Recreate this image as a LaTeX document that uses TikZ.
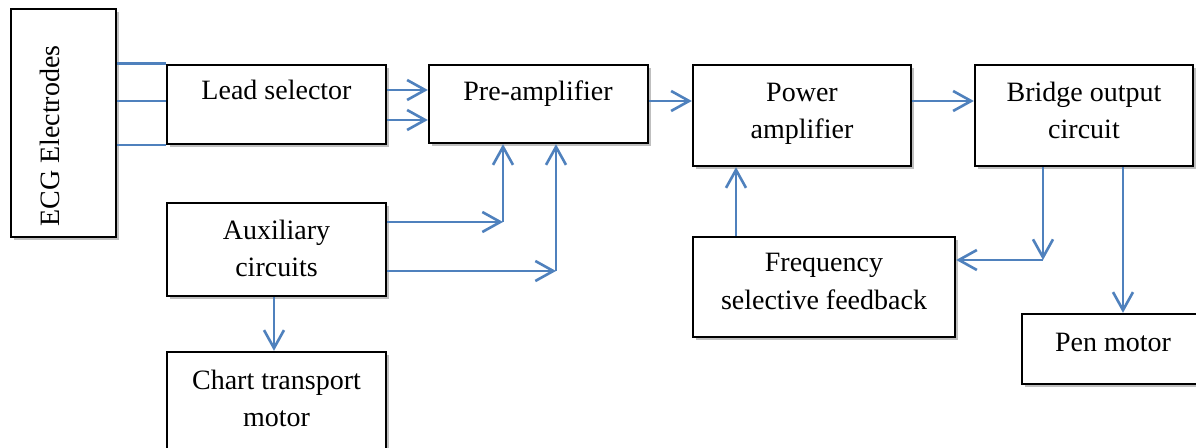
\documentclass[tikz,border=0pt]{standalone}
\usepackage{fontspec}
\setmainfont{Liberation Serif}
\usetikzlibrary{arrows.meta,shadows}
\definecolor{lineblue}{RGB}{79,129,189}
\begin{document}
\begin{tikzpicture}[x=0.5pt,y=-0.5pt,
  box/.style={draw=black,line width=1.2pt,fill=white,rectangle,inner sep=0pt,
    drop shadow={shadow xshift=1.3pt,shadow yshift=-1.3pt,fill=black,opacity=0.25}},
  txt/.style={font=\fontsize{14}{18}\selectfont,inner sep=0pt,anchor=base},
  wire/.style={draw=lineblue,line width=1.3pt},
  arr/.style={wire,-{Straight Barb[length=9pt,width=10pt,line width=1.3pt]}}
]
\useasboundingbox[fill=white] (0,0) rectangle (1196,448);

% boxes
\node[box,minimum width=52.5pt,minimum height=114pt] (ecg) at (63.5,123) {};
\node[box,minimum width=109.5pt,minimum height=39.5pt] (lead) at (276.5,104.5) {};
\node[box,minimum width=109.5pt,minimum height=39pt] (pre) at (538.5,104) {};
\node[box,minimum width=109pt,minimum height=50.5pt] (pow) at (802,115.5) {};
\node[box,minimum width=109pt,minimum height=50.5pt] (bridge) at (1084,115.5) {};
\node[box,minimum width=109.5pt,minimum height=46.5pt] (aux) at (276.5,249.5) {};
\node[box,minimum width=109.5pt,minimum height=54pt] (chart) at (276.5,406) {};
\node[box,minimum width=131pt,minimum height=50pt] (freq) at (824,287) {};
\node[box,minimum width=91.5pt,minimum height=35pt] (pen) at (1113.5,349) {};

% texts
\node[txt,rotate=90] (ecgt) at (59,136) {ECG Electrodes};
\node[txt] (leadt) at (276.5,100) {Lead selector};
\node[txt] (pret) at (538,101) {Pre-amplifier};
\node[txt] (powt1) at (802,102) {Power};
\node[txt] (powt2) at (802,139) {amplifier};
\node[txt] (bridget1) at (1084,102) {Bridge output};
\node[txt] (bridget2) at (1084,139) {circuit};
\node[txt] (auxt1) at (276.5,240) {Auxiliary};
\node[txt] (auxt2) at (276.5,277) {circuits};
\node[txt] (chartt1) at (276.5,390) {Chart transport};
\node[txt] (chartt2) at (276.5,427) {motor};
\node[txt] (freqt1) at (824,272) {Frequency};
\node[txt] (freqt2) at (824,310) {selective feedback};
\node[txt] (pent) at (1113,352) {Pen motor};

% corners
\coordinate (c1) at (503,222);
\coordinate (c2) at (556,271);
\coordinate (c3) at (1043,260);

% electrode wires
\draw[wire] (ecg.east |- lead.north) -- (lead.north west);
\draw[wire] (ecg.east |- 0,101) -- (lead.west |- 0,101);
\draw[wire] (ecg.east |- lead.south) -- (lead.south west);

% lead selector to pre-amplifier
\draw[arr] (lead.east |- 0,90) -- (pre.west |- 0,90);
\draw[arr] (lead.east |- 0,120) -- (pre.west |- 0,120);

% main chain
\draw[arr] (pre.east |- 0,101) -- (pow.west |- 0,101);
\draw[arr] (pow.east |- 0,101) -- (bridge.west |- 0,101);

% auxiliary circuits
\draw[arr] (aux.east |- c1) -- (c1);
\draw[arr] (c1) -- (c1 |- pre.south);
\draw[arr] (aux.east |- c2) -- (c2);
\draw[arr] (c2) -- (c2 |- pre.south);
\draw[arr] (aux.south -| 274,0) -- (chart.north -| 274,0);

% feedback
\draw[arr] (freq.north -| 736,0) -- (pow.south -| 736,0);
\draw[arr] (bridge.south -| c3) -- (c3);
\draw[arr] (c3) -- (freq.east |- c3);
\draw[arr] (bridge.south -| 1123,0) -- (pen.north -| 1123,0);
\end{tikzpicture}
\end{document}
